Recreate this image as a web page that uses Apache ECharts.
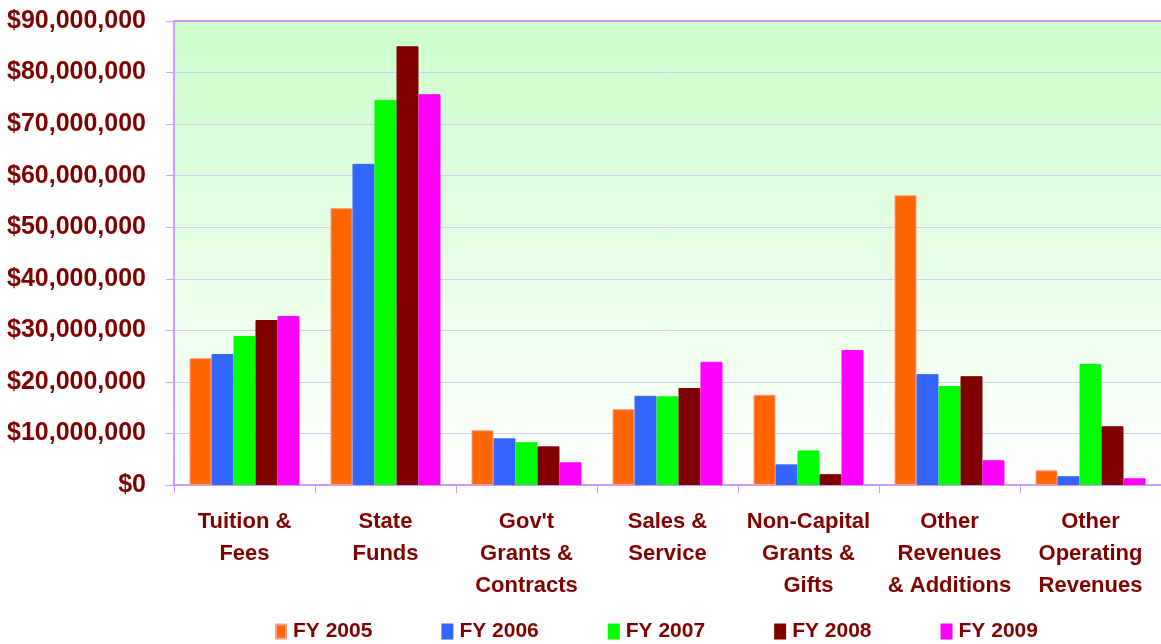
<!DOCTYPE html>
<html>
<head>
<meta charset="utf-8">
<script src="https://cdn.jsdelivr.net/npm/echarts@6/dist/echarts.min.js"></script>
<style>
  html, body { margin: 0; padding: 0; background: #ffffff; }
  #chart { width: 1161px; height: 644px; }
</style>
</head>
<body>
<div id="chart"></div>
<script>
// Revenue sources by fiscal year
const categories = [
  'Tuition &\nFees',
  'State\nFunds',
  "Gov't\nGrants &\nContracts",
  'Sales &\nService',
  'Non-Capital\nGrants &\nGifts',
  'Other\nRevenues\n& Additions',
  'Other\nOperating\nRevenues'
];
const seriesNames = ['FY 2005', 'FY 2006', 'FY 2007', 'FY 2008', 'FY 2009'];
const fy2005 = [24600000, 53700000, 10600000, 14700000, 17500000, 56200000, 2850000];
const fy2006 = [25400000, 62300000, 9050000, 17300000, 4000000, 21500000, 1700000];
const fy2007 = [28900000, 74700000, 8300000, 17200000, 6700000, 19200000, 23500000];
const fy2008 = [32000000, 85100000, 7500000, 18800000, 2100000, 21100000, 11400000];
const fy2009 = [32800000, 75800000, 4400000, 23900000, 26200000, 4800000, 1300000];
const yTicks = { min: 0, max: 90000000, interval: 10000000 };

const seriesValues = [fy2005, fy2006, fy2007, fy2008, fy2009];
const colors = ['#ff6600', '#3366ff', '#00ff00', '#800000', '#ff00ff'];
const borders = ['#ff9a8a', '#3366ff', '#00ff00', '#800000', '#ff00ff'];
const textColor = '#800000';
const font = '"Liberation Sans", Arial, sans-serif';

const chart = echarts.init(document.getElementById('chart'), null, { renderer: 'canvas' });

chart.setOption({
  animation: false,
  color: colors,
  grid: {
    left: 174, right: -2, top: 21, bottom: 159,
    show: true,
    borderWidth: 0,
    backgroundColor: new echarts.graphic.LinearGradient(0, 0, 0, 1, [
      { offset: 0, color: '#ccffcc' },
      { offset: 1, color: '#ffffff' }
    ])
  },
  legend: {
    data: seriesNames,
    bottom: -3,
    left: 270,
    itemWidth: 10,
    itemHeight: 14,
    itemGap: 69,
    icon: 'rect',
    textStyle: { color: textColor, fontFamily: font, fontWeight: 'bold', fontSize: 21, padding: [0, 0, 0, 2] }
  },
  xAxis: {
    type: 'category',
    data: categories,
    axisLine: { lineStyle: { color: '#cc99ff', width: 2 } },
    axisTick: { show: true, length: 8, lineStyle: { color: '#cc99ff', width: 1 } },
    axisLabel: {
      color: textColor, fontFamily: font, fontWeight: 'bold', fontSize: 22,
      lineHeight: 32, margin: 21, interval: 0
    },
    splitLine: { show: false }
  },
  yAxis: {
    type: 'value',
    min: yTicks.min, max: yTicks.max, interval: yTicks.interval,
    axisLine: { show: true, lineStyle: { color: '#cc99ff', width: 2 } },
    axisTick: { show: true, length: 8, lineStyle: { color: '#cc99ff', width: 1 } },
    axisLabel: {
      color: textColor, fontFamily: font, fontWeight: 'bold', fontSize: 25, margin: 28,
      formatter: v => '$' + v.toLocaleString('en-US')
    },
    splitLine: { show: true, lineStyle: { color: '#d4ccf4', width: 1 } }
  },
  series: seriesNames.map((name, i) => ({
    name: name,
    type: 'bar',
    data: seriesValues[i],
    barGap: '0%',
    barCategoryGap: '22%',
    itemStyle: { color: colors[i], borderColor: borders[i], borderWidth: 1 },
    markLine: i === 0 ? {
      silent: true, symbol: 'none', label: { show: false },
      lineStyle: { color: '#cc99ff', width: 2, type: 'solid' },
      data: [{ yAxis: yTicks.max }]
    } : undefined
  }))
});
</script>
</body>
</html>
